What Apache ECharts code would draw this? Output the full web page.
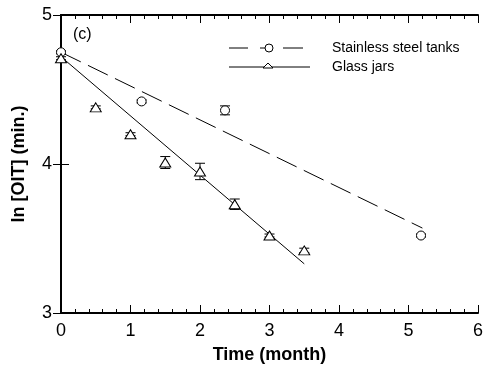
<!DOCTYPE html>
<html>
<head>
<meta charset="utf-8">
<script src="https://cdn.jsdelivr.net/npm/echarts@6/dist/echarts.min.js"></script>
<style>
html,body{margin:0;padding:0;background:#fff;}
#chartsBox{width:490px;height:373px;}
</style>
</head>
<body>
<div id="chartsBox"></div>
<script>
// measured points (time in months, ln OIT)
var steelX = [0, 1.16, 2.36, 5.18];
var steelY = [4.75, 4.42, 4.36, 3.52];
var steelErr = [0.01, 0.01, 0.03, 0.01];
var glassX = [0, 0.5, 1.0, 1.5, 2.0, 2.5, 3.0, 3.5];
var glassY = [4.71, 4.38, 4.20, 4.01, 3.95, 3.73, 3.52, 3.42];
var glassErr = [0.01, 0.01, 0.01, 0.04, 0.055, 0.035, 0.01, 0.015];
// fitted lines, end points
var steelFitX = [0, 5.2];
var steelFitY = [4.75, 3.57];
var glassFitX = [0, 3.5];
var glassFitY = [4.72, 3.33];
var xTicks = [0, 1, 2, 3, 4, 5, 6];
var yTicks = [3, 4, 5];

function pairs(xs, ys) {
    return xs.map(function (x, i) { return [x, ys[i]]; });
}
function errData(xs, ys, es) {
    return xs.map(function (x, i) { return [x, ys[i] - es[i], ys[i] + es[i]]; });
}
function errBars(params, api) {
    var lo = api.coord([api.value(0), api.value(1)]);
    var hi = api.coord([api.value(0), api.value(2)]);
    var w = 5;
    var st = { stroke: '#000', lineWidth: 1 };
    return {
        type: 'group',
        children: [
            { type: 'line', shape: { x1: lo[0], y1: lo[1], x2: hi[0], y2: hi[1] }, style: st },
            { type: 'line', shape: { x1: lo[0] - w, y1: lo[1], x2: lo[0] + w, y2: lo[1] }, style: st },
            { type: 'line', shape: { x1: hi[0] - w, y1: hi[1], x2: hi[0] + w, y2: hi[1] }, style: st }
        ]
    };
}

var font = 'Liberation Sans, Arial, sans-serif';
var axisLine = { lineStyle: { color: '#000', width: 2 } };

var option = {
    animation: false,
    backgroundColor: '#fff',
    grid: { left: 61, right: 12, top: 15, bottom: 60 },
    xAxis: [
        {
            type: 'value', min: 0, max: 6, interval: 1,
            name: 'Time (month)', nameLocation: 'middle', nameGap: 33,
            nameTextStyle: { color: '#000', fontSize: 18, fontWeight: 'bold', fontFamily: font },
            axisLine: axisLine,
            axisTick: { inside: true, length: 8, lineStyle: { color: '#000' } },
            minorTick: { show: true, splitNumber: 5, length: 4, lineStyle: { color: '#000' } },
            splitLine: { show: false },
            axisLabel: { color: '#000', fontSize: 18, fontFamily: font, margin: 9 }
        },
        {
            type: 'value', min: 0, max: 6, interval: 1, position: 'top',
            axisLine: axisLine,
            axisTick: { inside: true, length: 8, lineStyle: { color: '#000' } },
            minorTick: { show: true, splitNumber: 5, length: 4, lineStyle: { color: '#000' } },
            splitLine: { show: false },
            axisLabel: { show: false }
        }
    ],
    yAxis: [
        {
            type: 'value', min: 3, max: 5, interval: 1,
            name: 'ln [OIT] (min.)', nameLocation: 'middle', nameGap: 33,
            nameTextStyle: { color: '#000', fontSize: 18, fontWeight: 'bold', fontFamily: font },
            axisLine: axisLine,
            axisTick: { inside: true, length: 8, lineStyle: { color: '#000' } },
            splitLine: { show: false },
            axisLabel: { color: '#000', fontSize: 18, fontFamily: font, margin: 9 }
        },
        {
            type: 'value', min: 3, max: 5, interval: 1, position: 'right',
            axisLine: axisLine,
            axisTick: { inside: true, length: 8, lineStyle: { color: '#000' } },
            splitLine: { show: false },
            axisLabel: { show: false }
        }
    ],
    series: [
        {
            type: 'line', name: 'steel fit', data: pairs(steelFitX, steelFitY),
            symbol: 'none', lineStyle: { color: '#000', width: 1, type: [22, 8] }
        },
        {
            type: 'line', name: 'glass fit', data: pairs(glassFitX, glassFitY),
            symbol: 'none', lineStyle: { color: '#000', width: 1 }
        },
        {
            type: 'custom', renderItem: errBars, data: errData(steelX, steelY, steelErr), z: 3
        },
        {
            type: 'custom', renderItem: errBars, data: errData(glassX, glassY, glassErr), z: 3
        },
        {
            type: 'scatter', name: 'Stainless steel tanks', data: pairs(steelX, steelY),
            symbol: 'circle', symbolSize: 9, z: 4,
            itemStyle: { color: '#fff', borderColor: '#000', borderWidth: 1, opacity: 1 }
        },
        {
            type: 'scatter', name: 'Glass jars', data: pairs(glassX, glassY),
            symbol: 'triangle', symbolSize: [11, 9], z: 4,
            itemStyle: { color: '#fff', borderColor: '#000', borderWidth: 1, opacity: 1 }
        }
    ],
    graphic: [
        { type: 'text', left: 73, top: 27, style: { text: '(c)', fill: '#000', fontSize: 16, fontFamily: font } },
        // legend
        { type: 'line', shape: { x1: 229, y1: 48, x2: 248, y2: 48 }, style: { stroke: '#000', lineWidth: 1 } },
        { type: 'line', shape: { x1: 260, y1: 48, x2: 265, y2: 48 }, style: { stroke: '#000', lineWidth: 1 } },
        { type: 'line', shape: { x1: 283, y1: 48, x2: 303, y2: 48 }, style: { stroke: '#000', lineWidth: 1 } },
        { type: 'circle', shape: { cx: 269, cy: 48, r: 4 }, style: { fill: '#fff', stroke: '#000', lineWidth: 1 } },
        { type: 'line', shape: { x1: 229, y1: 67, x2: 310, y2: 67 }, style: { stroke: '#000', lineWidth: 1 } },
        { type: 'polygon', shape: { points: [[268, 63], [273, 68], [263, 68]] }, style: { fill: '#fff', stroke: '#000', lineWidth: 1 } },
        { type: 'text', left: 332, top: 41, style: { text: 'Stainless steel tanks', fill: '#000', fontSize: 14, fontFamily: font } },
        { type: 'text', left: 332, top: 60, style: { text: 'Glass jars', fill: '#000', fontSize: 14, fontFamily: font } }
    ]
};

var chartsBox = echarts.init(document.getElementById('chartsBox'));
chartsBox.setOption(option);
</script>
</body>
</html>
